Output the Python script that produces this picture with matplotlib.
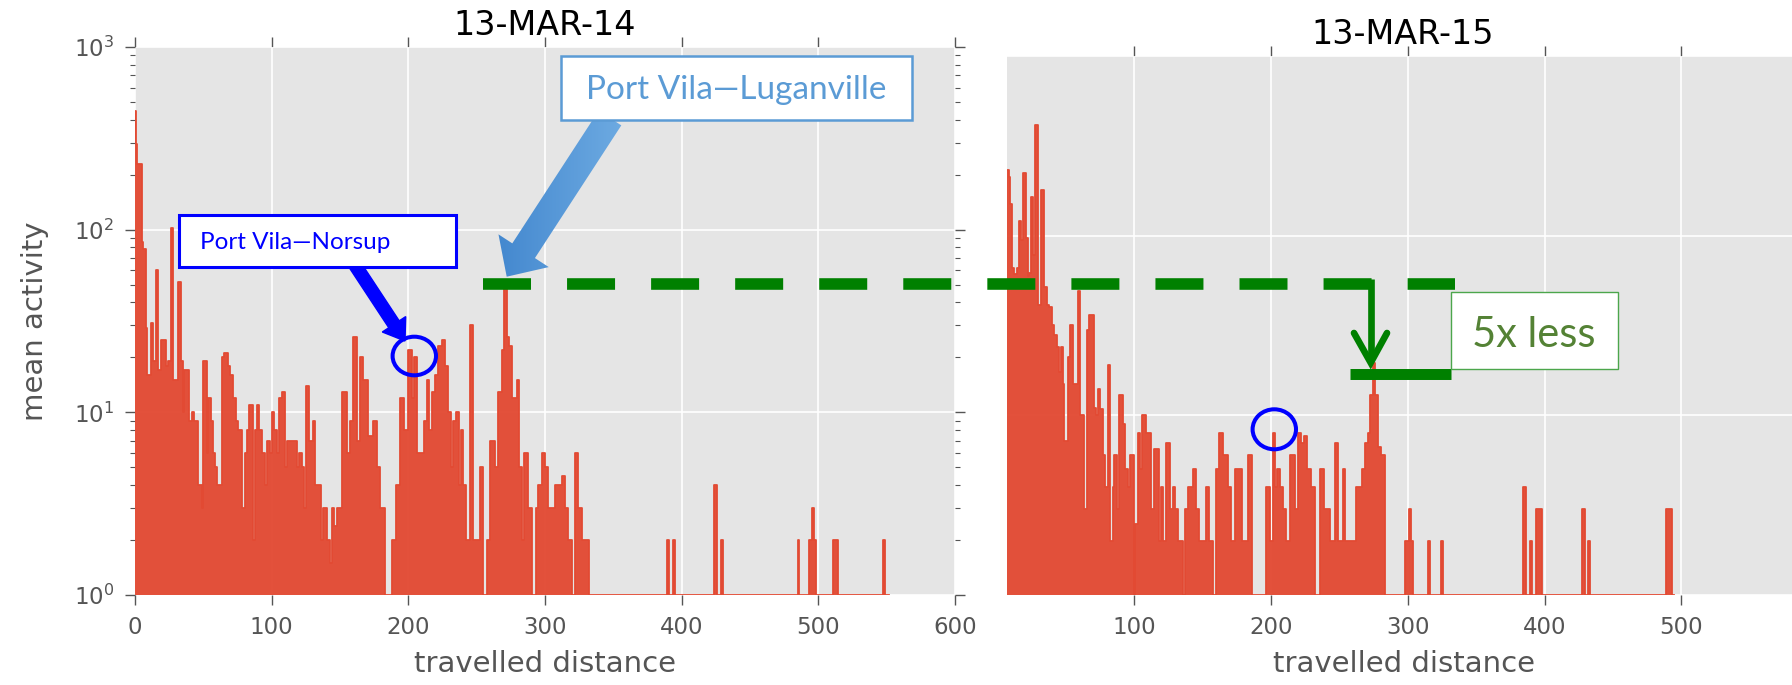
import numpy as np
import matplotlib
matplotlib.use("Agg")
import matplotlib.pyplot as plt
from matplotlib.patches import FancyArrow, Rectangle, Ellipse
from matplotlib.colors import LinearSegmentedColormap

plt.rcParams['font.family'] = ['DejaVu Sans']
plt.rcParams['lines.scale_dashes'] = False

# 13-MAR-14 : start of each step (distance) and mean activity on that step
dist_14 = [0, 1, 1.7, 4.9, 6.1, 8.1, 8.8, 11.5, 13.5, 15, 17, 19, 22.5, 24.5, 26.3, 28,
           31.2, 33.4, 34.9, 36, 39.8, 41.5, 43.2, 46.3, 48.8, 50, 52.4, 53.7, 55.4, 56.8,
           58.8, 60.2, 63.7, 65.4, 67.8, 69.5, 72, 73.9, 75.6, 78, 80.5, 81.7, 83.7, 86.1,
           87.8, 89, 91, 92.7, 95.1, 96.8, 98.8, 100, 102, 104, 105.4, 107.3, 109.8, 111,
           118.3, 120.3, 122, 124, 125.2, 127.6, 130, 131.8, 136.1, 137.8, 140.2, 142.7,
           144.1, 145.6, 147.6, 151.7, 154.9, 157.3, 159.3, 162.2, 164.6, 167, 170.7,
           174.4, 176.8, 179.3, 182.9, 188.3, 190.7, 193.9, 197.1, 199.5, 202.4, 204.4,
           206.6, 211.7, 213.4, 215.1, 217.1, 219.5, 222, 224.4, 226.8, 228.8, 231.2, 233,
           234.6, 237.1, 238.5, 240.3, 242.2, 245.1, 247.6, 252.4, 254.9, 257.3, 259.8,
           263.4, 265.9, 268.3, 270.3, 272.2, 273.7, 275.6, 279.3, 281.2, 283, 284.9,
           287.3, 290.3, 293.2, 295.1, 297.6, 300, 302, 307.3, 312.2, 314.6, 316.6, 319.5,
           322, 324.4, 326.8, 332.2, 389, 390.5, 393.5, 395, 424, 426, 428.5, 430, 485,
           486, 493.5, 495, 496.5, 498, 511, 514.5, 547, 548.5]
act_14 = [447, 295, 230, 86, 78, 29, 16, 31, 19, 60, 17, 25, 18, 19, 102, 15,
          52, 19, 10, 17, 9, 10, 9, 4, 3, 19, 6, 12, 9, 6,
          5, 4, 20, 21, 18, 16, 12, 9, 8, 3, 6, 8, 11, 2,
          8, 11, 8, 6, 4, 7, 6, 10, 8, 6, 12, 13, 5, 7,
          5, 6, 5, 3, 14, 7, 9, 4, 2, 3, 2, 1.5,
          3, 2.4, 3, 13, 6, 9, 26, 7, 20, 15, 7.4,
          9, 5, 3, 1, 2, 4, 12, 8, 22, 12, 20,
          6, 9, 15, 8, 13, 16, 23, 25, 18, 10, 5, 9,
          10, 4, 8, 4, 2, 30, 2, 5, 1, 2, 7,
          5, 13, 22, 48, 26, 23, 12, 15, 5, 2, 6,
          3, 1, 3, 4, 6, 5, 3, 4, 4.5, 3, 2, 1,
          6, 3, 2, 1, 2, 1, 2, 1, 4, 1, 2, 1, 2,
          1, 2, 3, 2, 1, 2, 1, 2, 1]
end_14 = 552

# 13-MAR-15
dist_15 = [6.8, 8.0, 9.3, 10.5, 12.2, 13.9, 15.4, 17.3, 18.8, 20.7, 22.2, 23.2, 24.6, 26.0,
           27.6, 29.5, 31.7, 34.1, 36.1, 37.8, 39.5, 41.0, 43.2, 44.6, 46.3, 47.6, 48.8,
           51.2, 52.9, 54.9, 58.5, 60.2, 63.4, 65.1, 67.1, 70.2, 72.0, 73.2, 75.1, 76.8,
           78.8, 80.5, 82.4, 84.1, 85.4, 87.1, 89.0, 91.5, 93.4, 95.1, 97.1, 99.5, 100.7,
           102.7, 104.1, 105.6, 108.5, 112.2, 114.6, 117.8, 119.3, 121.2, 123.2, 126.1,
           128, 130, 131.7, 135.4, 137.3, 139, 142.7, 145.1, 147.6, 152, 154.4, 157.3,
           159.8, 162.2, 164.6, 168.3, 170.7, 173.9, 178.7, 183.1, 186, 196.5, 199, 201.4,
           203.1, 204.6, 206.5, 208.7, 211.2, 213.6, 217.3, 219.7, 222.1, 224.1, 226.5,
           229, 232.4, 235.6, 238.7, 242.9, 246.5, 249, 252.6, 254.3, 262.4, 266.5, 269,
           270.9, 272.6, 274.3, 276.3, 278.2, 280.2, 283.1, 298, 300.5, 302, 304, 314.5,
           316, 324.5, 326, 384.5, 386.5, 389.5, 391, 393.5, 398, 427.5, 429.5, 431.5,
           433, 489, 493.5]
act_15 = [233, 212, 150, 66, 61, 66, 120, 95, 222, 97, 60, 62, 165, 78,
          415, 41, 180, 52, 41, 40, 32, 28, 24, 17.5, 24, 15, 7.2,
          21, 32, 15, 49, 10, 3, 30, 36, 11, 10, 14, 10.8, 6,
          4, 19, 2, 4, 6, 3, 13, 9, 5, 4, 6, 1, 2.5,
          8, 5, 10, 8, 3, 6.5, 2, 4, 2, 7, 3,
          4, 3, 2, 1, 3, 4, 5, 3, 2, 4, 2, 1,
          5, 8, 6, 4, 2, 5, 2, 6, 1, 4, 2, 8,
          4, 5, 4, 3, 2, 6, 3, 8, 7, 7.7, 5,
          4, 1, 5, 3, 2, 7, 2, 5, 2, 4, 5, 7,
          8, 13, 19.5, 13, 6.7, 6, 1, 2, 3, 2, 1, 2,
          1, 2, 1, 4, 1, 2, 1, 3, 1, 3, 1, 2,
          1, 3, 1]
end_15 = 494.5

xticks = [0, 100, 200, 300, 400, 500, 600]
titles = ['13-MAR-14', '13-MAR-15']

RED = '#E24A33'
GREEN = '#008000'
W, H = 1792, 685

fig = plt.figure(figsize=(W / 100, H / 100), dpi=100)


def px_axes(l, t, r, b):
    return fig.add_axes([l / W, 1 - b / H, (r - l) / W, (b - t) / H])


def style(ax):
    ax.set_facecolor('#E5E5E5')
    ax.set_yscale('log')
    ax.set_ylim(1, 1000)
    ax.set_xticks(xticks)
    ax.grid(True, which='major', color='white', lw=1.2)
    ax.set_axisbelow(True)
    for s in ax.spines.values():
        s.set_visible(False)
    ax.tick_params(which='both', direction='out', top=True, right=True,
                   colors='#555555', labelsize=16.5, pad=8)
    ax.tick_params(which='major', length=7, width=1)
    ax.tick_params(which='minor', length=3.5, width=0.8)


def draw(ax, dist, act, end):
    x = np.append(dist, end)
    y = np.append(act, act[-1])
    ax.fill_between(x, 1, y, step='post', color=RED, lw=0, alpha=0.96)
    ax.step(x, y, where='post', color=RED, lw=1.3)


ax1 = px_axes(135, 47, 955, 595)
ax2 = px_axes(1007, 56, 1818, 595)

for ax in (ax1, ax2):
    style(ax)
ax1.set_xlim(0, 600)
ax2.set_xlim(6.8, 600)
ax2.tick_params(which='both', left=False, labelleft=False)

draw(ax1, dist_14, act_14, end_14)
draw(ax2, dist_15, act_15, end_15)

ax1.set_title(titles[0], fontsize=24, pad=8.5)
ax2.set_title(titles[1], fontsize=24, pad=8.5, x=0.488)

for ax, xc, yc in ((ax1, 0.5, -0.100), (ax2, 0.4895, -0.102)):
    ax.set_xlabel('travelled distance', fontsize=21, color='#555555')
    ax.xaxis.set_label_coords(xc, yc)
ax1.set_ylabel('mean activity', fontsize=21, color='#555555')
ax1.yaxis.set_label_coords(-0.105, 0.5)

# overlay for the call-outs, in pixel units
ov = fig.add_axes([0, 0, 1, 1], zorder=10)
ov.set_xlim(0, W)
ov.set_ylim(H, 0)
ov.axis('off')

# Port Vila - Luganville call-out
arrow = FancyArrow(610, 118, 506.7 - 610, 276.7 - 118, width=27, head_width=60,
                   head_length=31, length_includes_head=True, fc='none', ec='none')
ov.add_patch(arrow)
cmap = LinearSegmentedColormap.from_list('blu', ['#3E83CC', '#76B2E6'])
im = ov.imshow(np.linspace(0, 1, 256).reshape(1, -1), cmap=cmap, aspect='auto',
               extent=(480, 650, 285, 110), zorder=3)
im.set_clip_path(arrow)
ov.add_patch(Rectangle((561, 56), 351, 64, fc='white', ec='#5B9BD5', lw=1.8, zorder=4))
ov.text(736.5, 89.5, 'Port Vila—Luganville', fontsize=24, family='Lato',
        color='#5B9BD5', ha='center', va='center', zorder=5)

# Port Vila - Norsup call-out
ov.add_patch(FancyArrow(355, 265, 405 - 355, 341 - 265, width=12.5, head_width=28,
                        head_length=20, length_includes_head=True, color='#0000FF', zorder=3))
ov.add_patch(Rectangle((179, 215), 277, 52, fc='white', ec='#0000FF', lw=2.2, zorder=4))
ov.text(200, 242, 'Port Vila—Norsup', fontsize=17.5, family='Lato',
        color='#0000FF', ha='left', va='center', zorder=5)

# circles around the Norsup peaks
for cx, cy, ch in ((414.3, 356, 38.6), (1274.3, 429.3, 40)):
    ov.add_patch(Ellipse((cx, cy), 43.4, ch, fill=False, ec='#0000FF', lw=2.9, zorder=6))

# green level line and the drop to the 2015 peak
ov.plot([482.7, 1455], [283.5, 283.5], color=GREEN, lw=8.35,
        linestyle=(0, (34.56, 25.96)), dash_capstyle='butt', zorder=6)
ov.plot([1370.7, 1370.7], [279, 360], color=GREEN, lw=4.8, solid_capstyle='butt', zorder=6)
ov.plot([1354, 1370.7, 1387], [333, 362.7, 333], color=GREEN, lw=4.8,
        solid_capstyle='round', solid_joinstyle='miter', zorder=6)
ov.plot([1350, 1450.7], [373.8, 373.8], color=GREEN, lw=7.9, solid_capstyle='butt', zorder=6)
ov.add_patch(Rectangle((1450.7, 291.7), 167, 77.3, fc='white', ec='#4CA64C', lw=1.0, zorder=6))
ov.text(1534, 346.7, '5x less', fontsize=30, family='Lato', color='#548235',
        ha='center', va='baseline', zorder=7)

ov.set_xlim(0, W)
ov.set_ylim(H, 0)

fig.savefig('out.png', dpi=100)
